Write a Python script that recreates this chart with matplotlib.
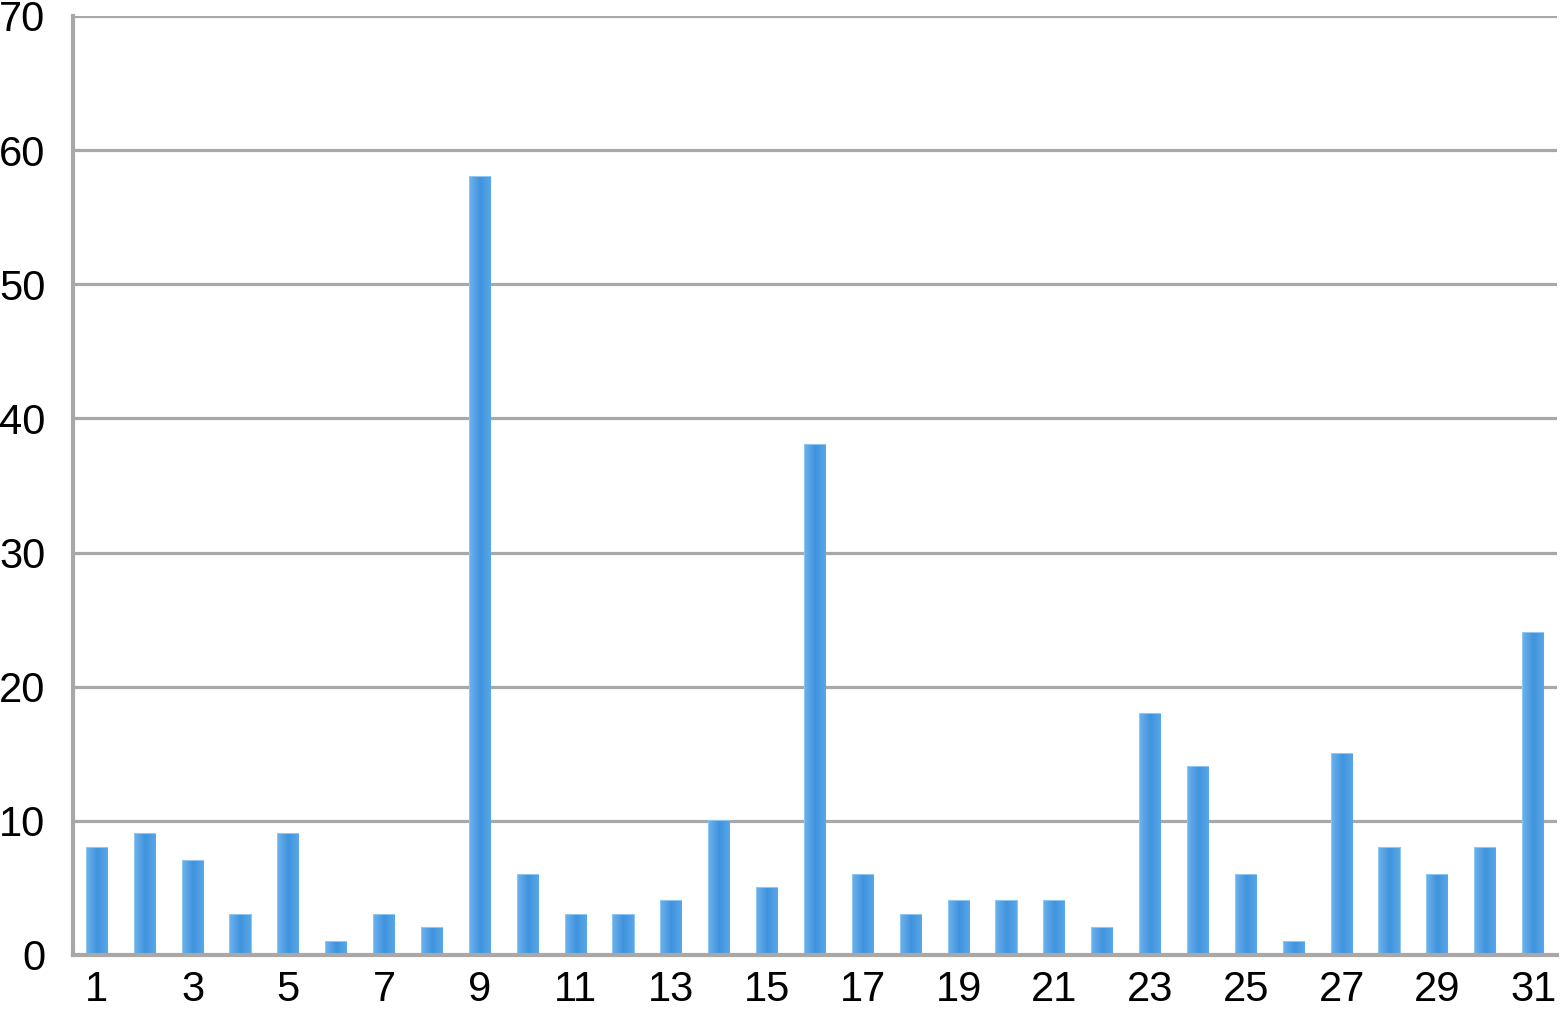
import matplotlib
matplotlib.use("Agg")
import matplotlib.pyplot as plt
import numpy as np
from matplotlib.colors import LinearSegmentedColormap

categories = list(range(1, 32))
values = [8, 9, 7, 3, 9, 1, 3, 2, 58, 6, 3, 3, 4, 10, 5, 38, 6, 3, 4, 4, 4, 2,
          18, 14, 6, 1, 15, 8, 6, 8, 24]
yticks = [0, 10, 20, 30, 40, 50, 60, 70]
xtick_labels = [str(c) for c in categories if c % 2 == 1]

plt.rcParams['font.family'] = ['Liberation Sans', 'DejaVu Sans']

fig = plt.figure(figsize=(15.63, 10.10), dpi=100)
ax = fig.add_axes([73/1563, 1-955/1010, (1557-73)/1563, (955-16)/1010])

grid_color = '#a8a8a8'
for y in yticks[1:]:
    ax.axhline(y, color=grid_color, linewidth=2.3, zorder=1)

bars = ax.bar(categories, values, width=0.42, color='#4b9de3',
              edgecolor='#8fc6f2', linewidth=1.5, zorder=3)

grad = np.linspace(0, 1, 64).reshape(1, -1)
cmap = LinearSegmentedColormap.from_list('b', ['#6ab0ec', '#3f93dd', '#5aa6e8'])
for b in bars:
    x0, w, h = b.get_x(), b.get_width(), b.get_height()
    im = ax.imshow(grad, extent=(x0, x0 + w, 0, h), aspect='auto', cmap=cmap,
                   zorder=3.5, interpolation='bicubic')
    im.set_clip_path(b)

ax.set_xlim(0.5, 31.5)
ax.set_ylim(0, 70)
ax.set_yticks(yticks)
ax.set_yticklabels([str(t) for t in yticks])
ax.set_xticks([c for c in categories if c % 2 == 1])
ax.set_xticklabels(xtick_labels)
ax.tick_params(axis='both', length=0, labelsize=30, colors='black')
ax.tick_params(axis='y', pad=20)
ax.tick_params(axis='x', pad=11)

for s in ['top', 'right']:
    ax.spines[s].set_visible(False)
for s in ['left', 'bottom']:
    ax.spines[s].set_color(grid_color)
    ax.spines[s].set_linewidth(3)
    ax.spines[s].set_zorder(4)

fig.savefig('out.png', dpi=100)
